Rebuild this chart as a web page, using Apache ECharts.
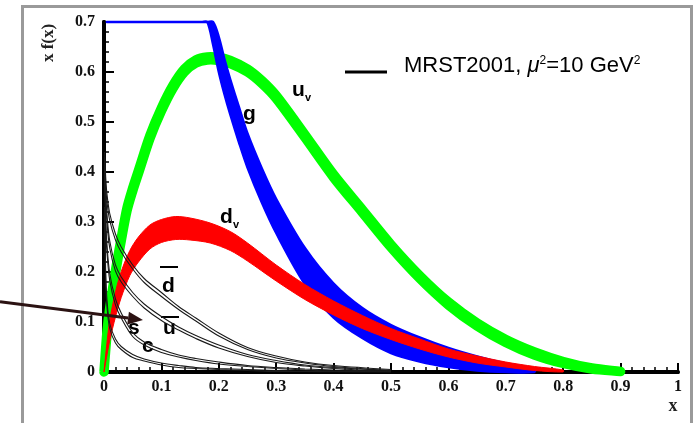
<!DOCTYPE html>
<html><head><meta charset="utf-8">
<script src="https://cdn.jsdelivr.net/npm/echarts@6/dist/echarts.min.js"></script>
<style>html,body{margin:0;padding:0;background:#fff}#c{width:698px;height:423px}</style>
</head><body><div id="c"></div>
<script>
// ---------------- data ----------------
const xTickLabels = ['0','0.1','0.2','0.3','0.4','0.5','0.6','0.7','0.8','0.9','1'];
const yTickLabels = ['0','0.1','0.2','0.3','0.4','0.5','0.6','0.7'];

// u valence (green band): centre and half-width
const uvX   = [0,0.005,0.01,0.02,0.03,0.04,0.05,0.06,0.08,0.1,0.12,0.14,0.16,0.18,0.2,0.22,0.25,0.275,0.3,0.35,0.4,0.45,0.5,0.55,0.6,0.65,0.7,0.75,0.8,0.85,0.9];
const uvY   = [0,0.075,0.125,0.2,0.265,0.325,0.365,0.4,0.47,0.525,0.57,0.603,0.621,0.627,0.626,0.62,0.603,0.58,0.55,0.472,0.392,0.322,0.252,0.19,0.137,0.095,0.062,0.037,0.019,0.007,0.001];
const uvErr = [0,0.003,0.003,0.003,0.003,0.003,0.003,0.003,0.003,0.003,0.003,0.003,0.003,0.003,0.003,0.003,0.003,0.003,0.003,0.003,0.003,0.003,0.003,0.003,0.003,0.003,0.003,0.003,0.002,0.001,0];

// d valence (red band)
const dvX   = [0,0.005,0.01,0.02,0.03,0.045,0.06,0.08,0.1,0.125,0.15,0.185,0.22,0.25,0.3,0.35,0.4,0.45,0.5,0.55,0.6,0.65,0.7,0.75,0.8];
const dvY   = [0,0.045,0.083,0.135,0.175,0.218,0.245,0.27,0.282,0.288,0.286,0.278,0.262,0.24,0.198,0.16,0.128,0.1,0.076,0.056,0.038,0.025,0.015,0.007,0.002];
const dvErr = [0,0.012,0.02,0.025,0.026,0.025,0.025,0.024,0.023,0.023,0.022,0.02,0.019,0.018,0.016,0.015,0.014,0.013,0.011,0.01,0.008,0.007,0.005,0.004,0.002];

// gluon (blue band)
const gX   = [0.005,0.02,0.05,0.1,0.15,0.17,0.18,0.19,0.2,0.21,0.22,0.235,0.25,0.275,0.3,0.35,0.4,0.45,0.5,0.55,0.6,0.65,0.7,0.75];
const gY   = [3.2,2.4,1.7,1.15,0.88,0.8,0.745,0.69,0.635,0.59,0.55,0.495,0.443,0.373,0.312,0.212,0.143,0.098,0.066,0.045,0.029,0.017,0.008,0.003];
const gErr = [0.1,0.08,0.06,0.045,0.037,0.036,0.035,0.035,0.035,0.035,0.035,0.035,0.034,0.034,0.034,0.036,0.034,0.03,0.028,0.024,0.019,0.014,0.009,0.004];

// sea quarks (thin black double lines)
const seaX    = [0.001,0.003,0.005,0.01,0.02,0.03,0.05,0.07,0.1,0.13,0.16,0.2,0.25,0.3,0.35,0.4,0.5];
const dbarY   = [0.43,0.38,0.35,0.31,0.27,0.245,0.21,0.183,0.155,0.128,0.105,0.075,0.047,0.03,0.019,0.012,0.004];
const ubarY   = [0.42,0.35,0.31,0.255,0.208,0.185,0.155,0.132,0.107,0.087,0.07,0.051,0.033,0.021,0.013,0.008,0.002];
const sY      = [0.4,0.3,0.25,0.19,0.14,0.113,0.075,0.057,0.042,0.032,0.025,0.018,0.012,0.008,0.005,0.003,0.001];
const cY      = [0.32,0.19,0.14,0.092,0.062,0.048,0.032,0.024,0.016,0.011,0.008,0.006,0.004,0.002,0.001,0.0005,0];
const dbarErr = [0.01,0.009,0.008,0.007,0.006,0.005,0.004,0.004,0.004,0.003,0.003,0.003,0.002,0.002,0.001,0.001,0.001];
const ubarErr = [0.01,0.009,0.008,0.007,0.006,0.005,0.004,0.004,0.004,0.003,0.003,0.003,0.002,0.002,0.001,0.001,0.001];
const sErr    = [0.01,0.009,0.008,0.007,0.006,0.005,0.004,0.003,0.003,0.002,0.002,0.002,0.001,0.001,0.001,0.001,0.0005];
const cErr    = [0.01,0.008,0.007,0.005,0.004,0.003,0.003,0.002,0.002,0.002,0.001,0.001,0.001,0.001,0,0,0];

// curve labels (data coordinates of left / middle of letter body)
const labelNames = ['u','g','d','d','u','s','c'];
const labelSubs  = ['v','','v','','','',''];
const labelBars  = [false,false,false,true,true,false,false];
const labelX     = [0.3275,0.2422,0.2021,0.101,0.1028,0.0418,0.0662];
const labelY     = [0.564,0.516,0.31,0.172,0.088,0.088,0.052];

// arrow (data coordinates: tail, head)
const arrowFrom = [-0.1812,0.1406];
const arrowTo   = [0.0679,0.104];

// ---------------- chart ----------------
const chart = echarts.init(document.getElementById('c'), null, {renderer:'canvas'});

function bandRender(xs, ys, es, color, stroke) {
  return function (params, api) {
    if (params.dataIndex !== 0) return;
    const cs = params.coordSys;
    const clampP = p => [Math.min(Math.max(p[0], cs.x), cs.x + cs.width),
                         Math.min(Math.max(p[1], cs.y), cs.y + cs.height)];
    const up = [], lo = [];
    for (let i = 0; i < xs.length; i++) {
      up.push(clampP(api.coord([xs[i], ys[i] + es[i]])));
      lo.push(clampP(api.coord([xs[i], Math.max(ys[i] - es[i], 0)])));
    }
    const pts = up.concat(lo.reverse());
    return {type:'polygon', shape:{points:pts, smooth:0.3},
      style:{fill:color, stroke: stroke > 0 ? color : null, lineWidth: stroke, lineJoin:'round'}};
  };
}
function band(name, xs, ys, es, color, stroke, z) {
  return {name, type:'custom', z, renderItem: bandRender(xs, ys, es, color, stroke),
    data: xs.map((x,i)=>[x, ys[i]]), silent:true, animation:false};
}
function seaLines(ys, es, z) {
  const hi = seaX.map((x,i)=>[x, ys[i] + es[i]]);
  const lo = seaX.map((x,i)=>[x, Math.max(ys[i] - es[i], 0)]);
  const base = {type:'line', smooth:0.35, showSymbol:false, symbol:'none', z, animation:false,
    lineStyle:{color:'#1a1a1a', width:1.1}};
  return [Object.assign({}, base, {data:hi}), Object.assign({}, base, {data:lo})];
}

const serif = 'Liberation Serif';
const axisLabelStyle = {fontFamily:serif, fontWeight:'bold', fontSize:16, color:'#111'};

const option = {
  animation:false,
  backgroundColor:'#fff',
  grid:{left:104, right:20, top:22, bottom:51},
  xAxis:[{
    type:'value', min:0, max:1, interval:0.1, position:'bottom',
    axisLine:{lineStyle:{color:'#000', width:4}},
    axisTick:{inside:true, length:9, lineStyle:{color:'#000', width:2}},
    minorTick:{show:true, splitNumber:5, length:5, lineStyle:{color:'#000', width:1.5}},
    splitLine:{show:false},
    axisLabel:Object.assign({margin:7, formatter:v=>xTickLabels[Math.round(v*10)]}, axisLabelStyle)
  },{
    type:'value', min:0, max:1, position:'top',
    axisLine:{lineStyle:{color:'#000', width:3}}, axisTick:{show:false}, axisLabel:{show:false}, splitLine:{show:false}
  }],
  yAxis:[{
    type:'value', min:0, max:0.7, interval:0.1, position:'left',
    axisLine:{lineStyle:{color:'#000', width:4}},
    axisTick:{inside:true, length:10, lineStyle:{color:'#000', width:2}},
    minorTick:{show:true, splitNumber:5, length:5, lineStyle:{color:'#000', width:1.5}},
    splitLine:{show:false},
    axisLabel:Object.assign({margin:9, formatter:v=>yTickLabels[Math.round(v*10)]}, axisLabelStyle)
  },{
    type:'value', min:0, max:0.7, position:'right',
    axisLine:{lineStyle:{color:'#000', width:4}}, axisTick:{show:false}, axisLabel:{show:false}, splitLine:{show:false}
  }],
  series:[
    band('uv', uvX, uvY, uvErr, '#00ff00', 9.5, 2),
    band('g', gX, gY, gErr, '#0000ff', 2.5, 3),
    band('dv', dvX, dvY, dvErr, '#ff0000', 1, 4),
    ...seaLines(dbarY, dbarErr, 5),
    ...seaLines(ubarY, ubarErr, 5),
    ...seaLines(sY, sErr, 5),
    ...seaLines(cY, cErr, 5)
  ]
};
chart.setOption(option);

// ---------------- annotations ----------------
function px(p){ return chart.convertToPixel({gridIndex:0}, p); }
const lblFont = 'bold 21px "Liberation Sans", Arial, sans-serif';
const graphics = [];

graphics.push({type:'rect', z:0, shape:{x:22.5, y:6.5, width:669, height:440},
  style:{fill:null, stroke:'#9a9a9a', lineWidth:3}});

graphics.push({type:'text', x:49, y:43, rotation:Math.PI/2, z:10,
  style:{text:'x f(x)', font:'bold 17px "Liberation Serif", serif', fill:'#222', align:'center', verticalAlign:'middle'}});
graphics.push({type:'text', x:673, y:406, z:10,
  style:{text:'x', font:'bold 18px "Liberation Serif", serif', fill:'#222', align:'center', verticalAlign:'middle'}});

graphics.push({type:'line', z:10, shape:{x1:345, y1:72, x2:387, y2:72}, style:{stroke:'#000', lineWidth:3}});
graphics.push({type:'text', x:404, y:66, z:10, style:{
  text:'MRST2001, {i|μ}{s|2}=10 GeV{s|2}',
  font:'22px "Liberation Sans", Arial, sans-serif', fill:'#000', verticalAlign:'middle',
  rich:{i:{fontStyle:'italic', fontSize:22, fontFamily:'Liberation Sans'},
        s:{fontSize:12, fontFamily:'Liberation Sans', padding:[0,0,10,0]}}
}});

for (let k = 0; k < labelNames.length; k++) {
  const p = px([labelX[k], labelY[k]]);
  const children = [{type:'text', x:0, y:0, style:{text:labelNames[k], font:lblFont, fill:'#000', verticalAlign:'middle'}}];
  if (labelSubs[k]) children.push({type:'text', x:13, y:8, style:{text:labelSubs[k], font:'bold 11px "Liberation Sans", Arial, sans-serif', fill:'#000', verticalAlign:'middle'}});
  if (labelBars[k]) children.push({type:'rect', shape:{x:-2, y: labelNames[k]==='d' ? -20 : -12, width:18, height:2}, style:{fill:'#000'}});
  graphics.push({type:'group', x:p[0], y:p[1], z:10, children});
}

const a0 = px(arrowFrom), a1 = px(arrowTo);
const ang = Math.atan2(a1[1]-a0[1], a1[0]-a0[0]);
const headL = 15, headW = 6.5;
const hb = [a1[0]-headL*Math.cos(ang), a1[1]-headL*Math.sin(ang)];
graphics.push({type:'line', z:11, shape:{x1:a0[0], y1:a0[1], x2:hb[0], y2:hb[1]}, style:{stroke:'#2b1212', lineWidth:3}});
graphics.push({type:'polygon', z:11, shape:{points:[a1,
  [hb[0]+headW*Math.sin(ang), hb[1]-headW*Math.cos(ang)],
  [hb[0]-headW*Math.sin(ang), hb[1]+headW*Math.cos(ang)]]}, style:{fill:'#2b1212'}});

chart.setOption({graphic:{elements:graphics}});
</script>
</body></html>
